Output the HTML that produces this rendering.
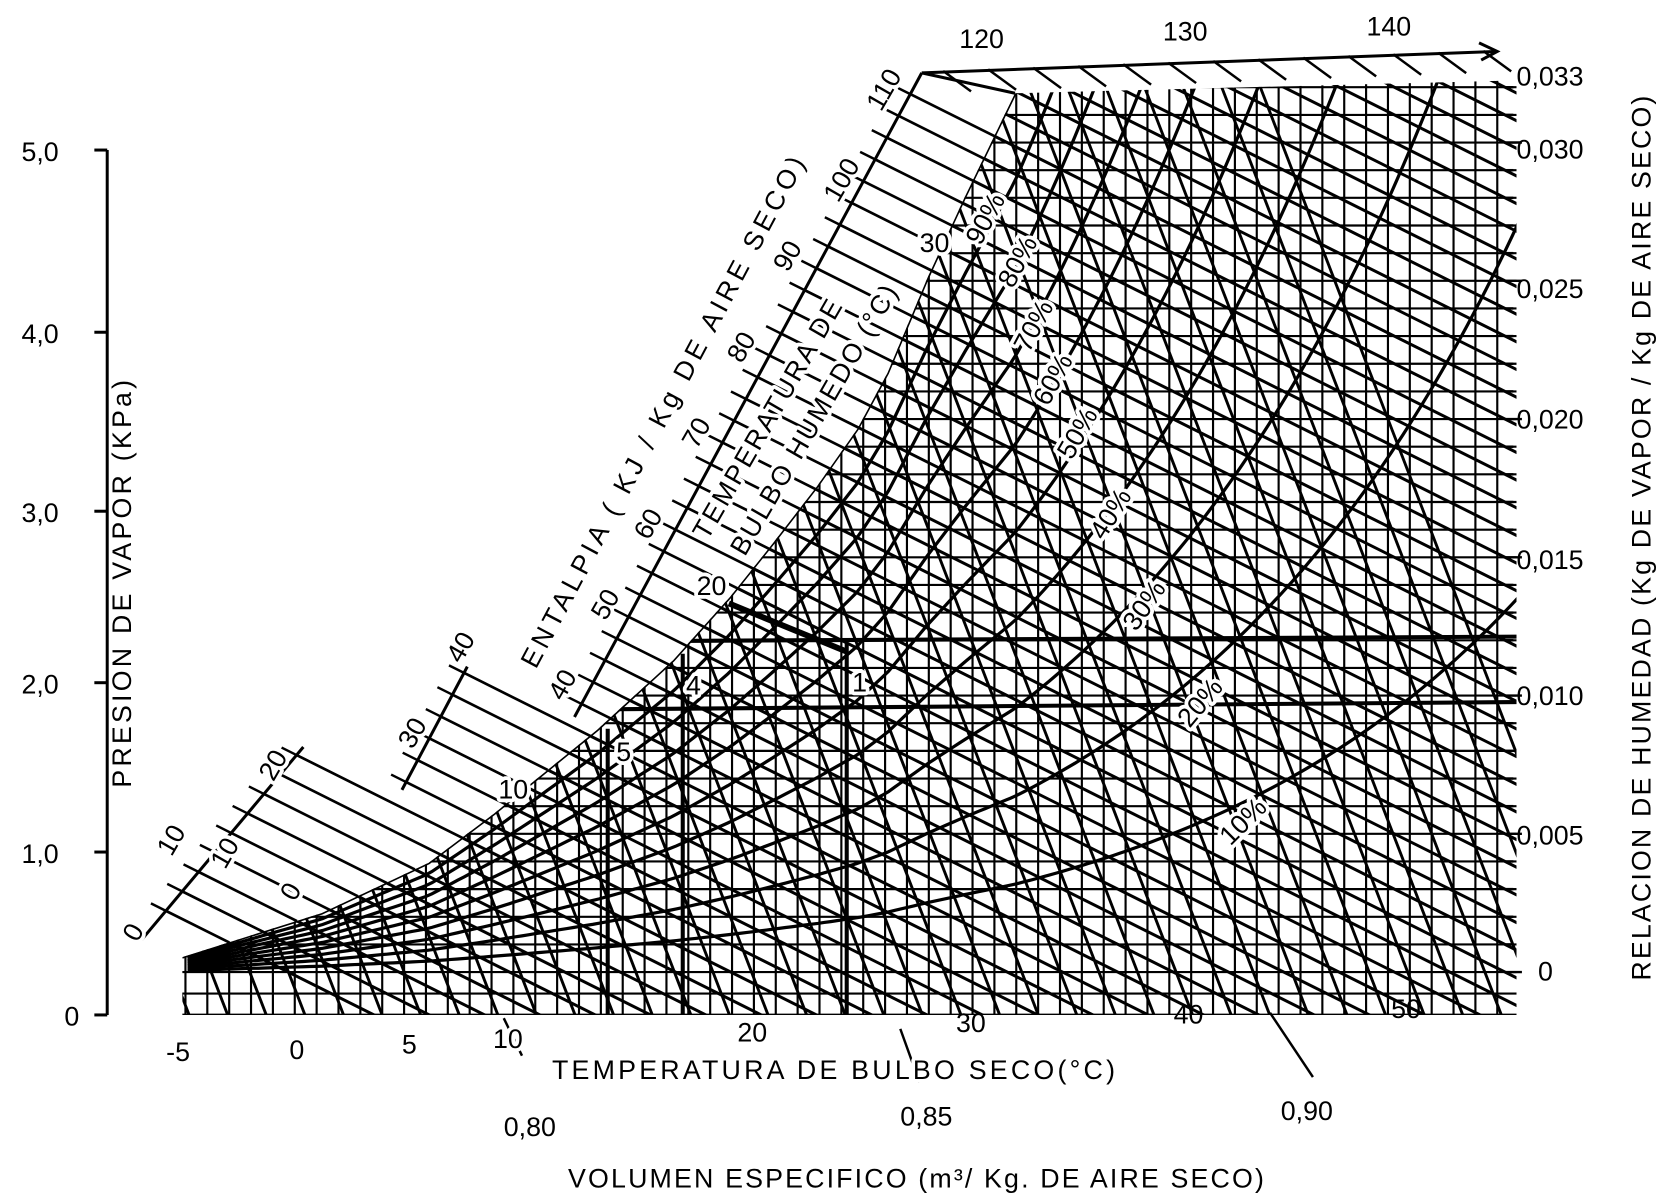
<!DOCTYPE html>
<html><head><meta charset="utf-8"><style>
html,body{margin:0;padding:0;background:#fff;overflow:hidden;width:1672px;height:1201px;}
svg{display:block;position:absolute;left:0;top:0}
text{font-family:"Liberation Sans",sans-serif;fill:#000;font-size:25px;}
.h{stroke:#fff;stroke-width:7px;paint-order:stroke;stroke-linejoin:round}
</style></head><body>
<svg id="s" width="1672" height="1201" viewBox="0 0 1560 1120.6" xmlns="http://www.w3.org/2000/svg">
<defs><clipPath id="cp"><polygon id="cpoly" points=""/></clipPath></defs>
<g id="grid" clip-path="url(#cp)" stroke="#000" fill="none"></g>
<g id="ext" stroke="#000" fill="none"></g>
<g>
<text x="20" y="150" font-size="26">5,0</text>
<text x="20" y="320" font-size="26">4,0</text>
<text x="20" y="487" font-size="26">3,0</text>
<text x="20" y="647" font-size="26">2,0</text>
<text x="20" y="805" font-size="26">1,0</text>
<text x="60" y="957" font-size="26">0</text>
<text x="1415" y="80">0,033</text>
<text x="1415" y="148">0,030</text>
<text x="1415" y="278">0,025</text>
<text x="1415" y="400">0,020</text>
<text x="1415" y="531">0,015</text>
<text x="1415" y="658">0,010</text>
<text x="1415" y="788">0,005</text>
<text x="1435" y="915">0</text>
<text x="155" y="990">-5</text>
<text x="270" y="988">0</text>
<text x="375" y="983">5</text>
<text class="h" x="460" y="978">10</text>
<text x="688" y="972">20</text>
<text x="892" y="963">30</text>
<text x="1095" y="955">40</text>
<text x="1298" y="950">50</text>
<text x="895" y="45">120</text>
<text x="1085" y="38">130</text>
<text x="1275" y="33">140</text>
<text class="h" x="515" y="1007" letter-spacing="3">TEMPERATURA DE BULBO SECO(°C)</text>
<text x="470" y="1060">0,80</text>
<text x="840" y="1050">0,85</text>
<text x="1195" y="1045">0,90</text>
<text x="530" y="1108" letter-spacing="2">VOLUMEN ESPECIFICO (m³/ Kg. DE AIRE SECO)</text>
<text transform="translate(122,735) rotate(-90)" letter-spacing="3">PRESION  DE VAPOR (KPa)</text>
<text transform="translate(1540,915) rotate(-90)" letter-spacing="2">RELACION DE HUMEDAD (Kg DE VAPOR / Kg DE AIRE SECO)</text>
<text class="h" transform="translate(500,625) rotate(-62)" letter-spacing="4">ENTALPIA ( KJ / Kg   DE  AIRE  SECO)</text>
<text class="h" transform="translate(660,505) rotate(-60)" letter-spacing="2">TEMPERATURA DE</text>
<text class="h" transform="translate(695,520) rotate(-60)" letter-spacing="2">BULBO HUMEDO (°C)</text>
<text class="h" transform="translate(128,880) rotate(-60)">0</text>
<text class="h" transform="translate(160,800) rotate(-60)">10</text>
<text class="h" transform="translate(255,730) rotate(-60)">20</text>
<text class="h" transform="translate(385,700) rotate(-60)">30</text>
<text class="h" transform="translate(430,620) rotate(-60)">40</text>
<text class="h" transform="translate(525,655) rotate(-60)">40</text>
<text class="h" transform="translate(565,580) rotate(-60)">50</text>
<text class="h" transform="translate(605,505) rotate(-60)">60</text>
<text class="h" transform="translate(650,420) rotate(-60)">70</text>
<text class="h" transform="translate(692,340) rotate(-60)">80</text>
<text class="h" transform="translate(735,255) rotate(-60)">90</text>
<text class="h" transform="translate(782,190) rotate(-60)">100</text>
<text class="h" transform="translate(822,105) rotate(-60)">110</text>
<text class="h" transform="translate(210,812) rotate(-60)">10</text>
<text class="h" transform="translate(275,842) rotate(-60)">0</text>
<text class="h" x="465" y="745">10</text>
<text class="h" x="650" y="555">20</text>
<text class="h" x="858" y="235">30</text>
<text class="h" x="575" y="710">5</text>
<text class="h" x="640" y="648">4</text>
<text class="h" x="795" y="645">1</text>
<text class="h" transform="translate(915,230) rotate(-62)">90%</text>
<text class="h" transform="translate(945,270) rotate(-62)">80%</text>
<text class="h" transform="translate(960,330) rotate(-62)">70%</text>
<text class="h" transform="translate(978,380) rotate(-62)">60%</text>
<text class="h" transform="translate(1000,430) rotate(-60)">50%</text>
<text class="h" transform="translate(1030,505) rotate(-58)">40%</text>
<text class="h" transform="translate(1060,590) rotate(-55)">30%</text>
<text class="h" transform="translate(1110,680) rotate(-50)">20%</text>
<text class="h" transform="translate(1148,790) rotate(-45)">10%</text>
</g>
</svg>
<script>
var sat=[[170,893],[300,852],[400,805],[461,759],[557,681],[628,616],[681,557],[721,507],[762,454],[800,400],[828,348],[865,260],[900,184],[947,87]];
function ysat(x){
 if(x<=947){for(var i=0;i<sat.length-1;i++){if(x<=sat[i+1][0]){var a=sat[i],b=sat[i+1];return a[1]+(b[1]-a[1])*(x-a[0])/(b[0]-a[0]);}}return sat[0][1];}
 var W=(907-87)*Math.pow(1.065,(x-947)/20.4);return 907-W;}
var Y0=907;
var cp=sat.map(function(p){return p.join(',')}).join(' ')+' 1415,75 1415,947 170,947';
document.getElementById('cpoly').setAttribute('points',cp);
var g='',e='';
function L(x1,y1,x2,y2,w){return '<line x1="'+x1.toFixed(1)+'" y1="'+y1.toFixed(1)+'" x2="'+x2.toFixed(1)+'" y2="'+y2.toFixed(1)+'" stroke-width="'+w+'"/>';}
for(var x=173;x<=1416;x+=20.4)g+=L(x,60,x,947,2);
for(var y=907;y>=60;y-=25.8)g+=L(160,y,1420,y,2);
g+=L(160,927,1420,927,2);g+=L(160,947,1420,947,2.4);
for(var k=0;k<60;k++){var yE=1480-25.8*k;g+=L(0,yE-0.5*1415,1420,yE+2.5,2.8);}
for(var v=0.76;v<=0.95;v+=0.005){var x0=275+20.4*(v*353.05-273.15);g+=L(x0,947,x0-(907)/2.6,40,2.7);}
[0.1,0.2,0.3,0.4,0.5,0.6,0.7,0.8,0.9].forEach(function(f){var d='';for(var x=175;x<=1420;x+=6){var yy=Y0-f*(Y0-ysat(x));d+=(d?'L':'M')+x+','+yy.toFixed(1);}g+='<path d="'+d+'" stroke-width="3"/>';});
g+='<polyline points="'+sat.map(function(p){return p.join(',')}).join(' ')+'" stroke-width="3"/>';
g+=L(540,662,1420,655,3.8)+L(630,598,1420,594,3.8)+L(567,680,567,950,3.8)+L(637,610,637,950,3.8)+L(790,600,790,950,3.8)+L(680,563,790,608,5.5);
document.getElementById('grid').innerHTML=g;
var segs=[[[132,877],[283,697]],[[375,737],[436,622]],[[536,669],[860,68]]];
for(var k=0;k<60;k++){var yE=1480-25.8*k;
 var xs=null;for(var x=170;x<=947;x+=1){var yl=yE+0.5*(x-1415);if(yl>=ysat(x)){xs=x;break;}}
 if(xs===null||xs<=172)continue;var ys=yE+0.5*(xs-1415);
 var best=null;
 segs.forEach(function(s){var P1=s[0],P2=s[1];var dx=P2[0]-P1[0],dy=P2[1]-P1[1];
  var t=(yE+0.5*(P1[0]-1415)-P1[1])/(dy-0.5*dx);if(t<0||t>1)return;var xb=P1[0]+t*dx;
  if(xb<xs&&(best===null||xb>best[0]))best=[xb,P1[1]+t*dy];});
 if(!best)continue;
 e+=L(best[0],best[1],xs,ys,2.5);
 e+=L(best[0],best[1],best[0]-14,best[1]-7,2.3);
}
segs.forEach(function(s){e+=L(s[0][0],s[0][1],s[1][0],s[1][1],2.8);});
e+=L(860,68,947,87,2.8);
e+=L(860,68,1395,48,2.8)+'<polyline points="1380,40 1397,48 1382,56" stroke-width="2.8"/>';
for(var x=880;x<1395;x+=42){e+=L(x,67-(x-860)*0.037,x+26,86-(x-860)*0.037,2.3);}
e+=L(100,140,100,947,2.8);
[140,310,477,637,795,947].forEach(function(p){e+=L(88,p,100,p,2.8);});
for(var y=907;y>=70;y-=25.8){var big=(Math.round((907-y)/25.8)%5==0);e+=L(1405,y,big?1420:1412,y,2.3);}
e+=L(487,985,470,950,2.3)+L(858,1010,840,960,2.3)+L(1225,1005,1185,945,2.3);
document.getElementById('ext').innerHTML=e;
</script>
</body></html>
